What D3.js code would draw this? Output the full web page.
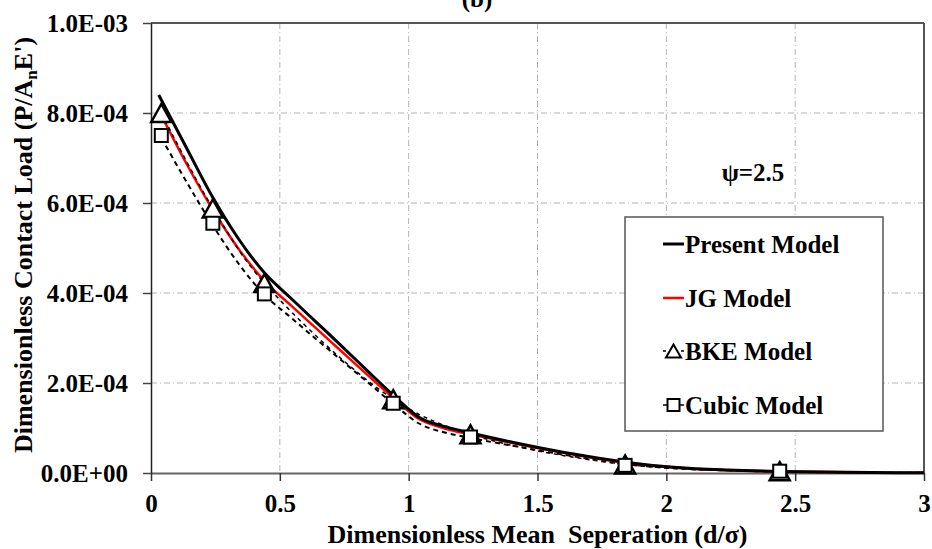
<!DOCTYPE html>
<html>
<head>
<meta charset="utf-8">
<script src="https://cdn.jsdelivr.net/npm/d3@7"></script>
<style>
  html, body { margin: 0; padding: 0; background: #fff; }
  svg { display: block; }
  text { font-family: "Liberation Serif", "Times New Roman", "DejaVu Serif", serif; font-weight: bold; fill: #000; }
</style>
</head>
<body>
<svg id="chart" width="932" height="549"></svg>
<script>
// Dimensionless separation d/sigma (x) and contact load P/(An E') (y), psi = 2.5
const presentX = [0.03, 0.14, 0.24, 0.34, 0.44, 0.54, 0.64, 0.74, 0.84, 0.94, 1.04, 1.14, 1.24, 1.34, 1.44, 1.64, 1.84, 2.04, 2.24, 2.44, 2.7, 3.0];
const presentY = [8.4e-4, 7.2e-4, 6.12e-4, 5.2e-4, 4.45e-4, 3.9e-4, 3.36e-4, 2.82e-4, 2.27e-4, 1.73e-4, 1.24e-4, 1.03e-4, 0.89e-4, 0.76e-4, 0.64e-4, 0.42e-4, 0.24e-4, 0.12e-4, 0.065e-4, 0.035e-4, 0.015e-4, 0.005e-4];

const jgX = [0.04, 0.14, 0.24, 0.34, 0.44, 0.54, 0.64, 0.74, 0.84, 0.94, 1.04, 1.14, 1.24, 1.34, 1.44, 1.64, 1.84, 2.04, 2.24, 2.44, 2.7, 3.0];
const jgY = [7.95e-4, 6.85e-4, 5.85e-4, 4.98e-4, 4.27e-4, 3.74e-4, 3.22e-4, 2.7e-4, 2.18e-4, 1.67e-4, 1.2e-4, 0.99e-4, 0.86e-4, 0.74e-4, 0.62e-4, 0.41e-4, 0.23e-4, 0.115e-4, 0.06e-4, 0.033e-4, 0.014e-4, 0.005e-4];

const bkeX = [0.04, 0.24, 0.44, 0.94, 1.24, 1.84, 2.44];
const bkeY = [8.0e-4, 5.88e-4, 4.22e-4, 1.64e-4, 0.86e-4, 0.19e-4, 0.04e-4];

const cubicX = [0.04, 0.14, 0.24, 0.34, 0.44, 0.54, 0.64, 0.74, 0.84, 0.94, 1.04, 1.14, 1.24, 1.34, 1.44, 1.64, 1.84, 2.04, 2.24, 2.44, 2.7, 3.0];
const cubicY = [7.45e-4, 6.45e-4, 5.5e-4, 4.65e-4, 3.96e-4, 3.47e-4, 2.98e-4, 2.5e-4, 2.02e-4, 1.54e-4, 1.1e-4, 0.9e-4, 0.78e-4, 0.67e-4, 0.57e-4, 0.37e-4, 0.2e-4, 0.1e-4, 0.055e-4, 0.03e-4, 0.012e-4, 0.004e-4];
const cubicMarkX = [0.04, 0.24, 0.44, 0.94, 1.24, 1.84, 2.44];
const cubicMarkY = [7.5e-4, 5.55e-4, 3.98e-4, 1.55e-4, 0.8e-4, 0.17e-4, 0.04e-4];

const xTicks = [0, 0.5, 1, 1.5, 2, 2.5, 3];
const xTickLabels = ["0", "0.5", "1", "1.5", "2", "2.5", "3"];
const yTicks = [0, 2e-4, 4e-4, 6e-4, 8e-4, 1e-3];
const yTickLabels = ["0.0E+00", "2.0E-04", "4.0E-04", "6.0E-04", "8.0E-04", "1.0E-03"];

const legendLabels = ["Present Model", "JG Model", "BKE Model", "Cubic Model"];

const FONT = '"Liberation Serif", "Times New Roman", "DejaVu Serif", serif';
const svg = d3.select("#chart");
const L = 151, R = 924, T = 23, B = 473;

const x = d3.scaleLinear().domain([0, 3]).range([L, R]);
const y = d3.scaleLinear().domain([0, 1e-3]).range([B, T]);

// grid
const grid = svg.append("g").attr("stroke", "#b4b4b4").attr("stroke-width", 1)
  .attr("stroke-dasharray", "6,3,1,3").attr("fill", "none");
xTicks.filter(d => d > 0 && d < 3).forEach(d => {
  grid.append("line").attr("x1", x(d)).attr("x2", x(d)).attr("y1", T).attr("y2", B);
});
yTicks.filter(d => d > 0 && d < 1e-3).forEach(d => {
  grid.append("line").attr("x1", L).attr("x2", R).attr("y1", y(d)).attr("y2", y(d));
});

// frame (top and right)
svg.append("line").attr("x1", L).attr("x2", R).attr("y1", T).attr("y2", T)
  .attr("stroke", "#555").attr("stroke-width", 2);
svg.append("line").attr("x1", R).attr("x2", R).attr("y1", T).attr("y2", B)
  .attr("stroke", "#555").attr("stroke-width", 2);

// axes
const xAxis = d3.axisBottom(x).tickValues(xTicks).tickFormat((d, i) => xTickLabels[i])
  .tickSizeInner(8).tickSizeOuter(0).tickPadding(13);
const yAxis = d3.axisLeft(y).tickValues(yTicks).tickFormat((d, i) => yTickLabels[i])
  .tickSizeInner(8).tickSizeOuter(0).tickPadding(15);

const gx = svg.append("g").attr("transform", `translate(0,${B})`).call(xAxis);
const gy = svg.append("g").attr("transform", `translate(${L},0)`).call(yAxis);
gx.attr("font-family", null).attr("font-size", null);
gy.attr("font-family", null).attr("font-size", null);
gx.select(".domain").attr("stroke", "#666").attr("stroke-width", 2);
gy.select(".domain").attr("stroke", "#222").attr("stroke-width", 1.5);
gx.selectAll(".tick line").attr("stroke", "#333").attr("stroke-width", 1.5);
gy.selectAll(".tick line").attr("stroke", "#444").attr("stroke-width", 1.5);
[gx, gy].forEach(g => g.selectAll("text")
  .style("font-family", FONT)
  .style("font-weight", "bold").style("font-size", "25px").attr("fill", "#000"));

// curves
const line = d3.line().x(d => x(d[0])).y(d => y(d[1])).curve(d3.curveMonotoneX);
const smooth = d3.line().x(d => x(d[0])).y(d => y(d[1])).curve(d3.curveCatmullRom.alpha(0.5));
const zip = (a, b) => a.map((v, i) => [v, b[i]]);

svg.append("path").datum(zip(cubicX, cubicY)).attr("d", line)
  .attr("fill", "none").attr("stroke", "#000").attr("stroke-width", 2).attr("stroke-dasharray", "5,4");
svg.append("path").datum(zip(jgX, jgY)).attr("d", line)
  .attr("fill", "none").attr("stroke", "#ff0000").attr("stroke-width", 2.5);
svg.append("path").datum(zip(bkeX, bkeY)).attr("d", smooth)
  .attr("fill", "none").attr("stroke", "#000").attr("stroke-width", 1.5).attr("stroke-dasharray", "4,4");
svg.append("path").datum(zip(presentX, presentY)).attr("d", line)
  .attr("fill", "none").attr("stroke", "#000").attr("stroke-width", 3);

// markers
const triPath = (w, h) => `M0,${-h / 2}L${w / 2},${h / 2}L${-w / 2},${h / 2}Z`;
svg.append("g").selectAll("path").data(zip(bkeX, bkeY)).join("path")
  .attr("d", triPath(20, 18))
  .attr("transform", d => `translate(${x(d[0])},${y(d[1])})`)
  .attr("fill", "#fff").attr("stroke", "#000").attr("stroke-width", 2.5);
svg.append("g").selectAll("rect").data(zip(cubicMarkX, cubicMarkY)).join("rect")
  .attr("x", d => x(d[0]) - 6.5).attr("y", d => y(d[1]) - 6.5)
  .attr("width", 13).attr("height", 13)
  .attr("fill", "#fff").attr("stroke", "#000").attr("stroke-width", 2);

// parameter note
svg.append("text").attr("x", 753).attr("y", 181).attr("text-anchor", "middle")
  .style("font-size", "25px").text("ψ=2.5");

// legend
const lg = svg.append("g");
lg.append("rect").attr("x", 625).attr("y", 217).attr("width", 258).attr("height", 214)
  .attr("fill", "#fff").attr("stroke", "#555").attr("stroke-width", 1.5);
const rowsY = [244, 298, 351, 405];
const sx0 = 663, sx1 = 684;
legendLabels.forEach((lab, i) => {
  const ry = rowsY[i];
  const row = lg.append("g");
  if (i === 0) {
    row.append("line").attr("x1", sx0).attr("x2", sx1).attr("y1", ry).attr("y2", ry)
      .attr("stroke", "#000").attr("stroke-width", 3);
  } else if (i === 1) {
    row.append("line").attr("x1", sx0).attr("x2", sx1).attr("y1", ry).attr("y2", ry)
      .attr("stroke", "#ff0000").attr("stroke-width", 2.5);
  } else if (i === 2) {
    row.append("line").attr("x1", sx0).attr("x2", sx1).attr("y1", ry).attr("y2", ry)
      .attr("stroke", "#000").attr("stroke-width", 1.5).attr("stroke-dasharray", "3,3");
    row.append("path").attr("d", triPath(15, 13))
      .attr("transform", `translate(${(sx0 + sx1) / 2},${ry})`)
      .attr("fill", "#fff").attr("stroke", "#000").attr("stroke-width", 2);
  } else {
    row.append("line").attr("x1", sx0).attr("x2", sx1).attr("y1", ry).attr("y2", ry)
      .attr("stroke", "#000").attr("stroke-width", 1.5);
    row.append("rect").attr("x", (sx0 + sx1) / 2 - 6).attr("y", ry - 6)
      .attr("width", 12).attr("height", 12)
      .attr("fill", "#fff").attr("stroke", "#000").attr("stroke-width", 2);
  }
  row.append("text").attr("x", 685).attr("y", ry + 8.5)
    .style("font-size", "25px").text(lab);
});

// axis titles
svg.append("text").attr("x", (L + R) / 2).attr("y", 543).attr("text-anchor", "middle")
  .style("font-size", "26px").style("white-space", "pre")
  .text("Dimensionless Mean  Seperation (d/σ)");

const yt = svg.append("text").attr("transform", "translate(32,245) rotate(-90)")
  .attr("text-anchor", "middle").style("font-size", "26px");
yt.append("tspan").text("Dimensionless Contact Load (P/A");
yt.append("tspan").attr("dy", 5).style("font-size", "17px").text("n");
yt.append("tspan").attr("dy", -5).text("E')");

// panel tag
svg.append("text").attr("x", 477).attr("y", 7).attr("text-anchor", "middle")
  .style("font-size", "25px").text("(b)");
</script>
</body>
</html>
